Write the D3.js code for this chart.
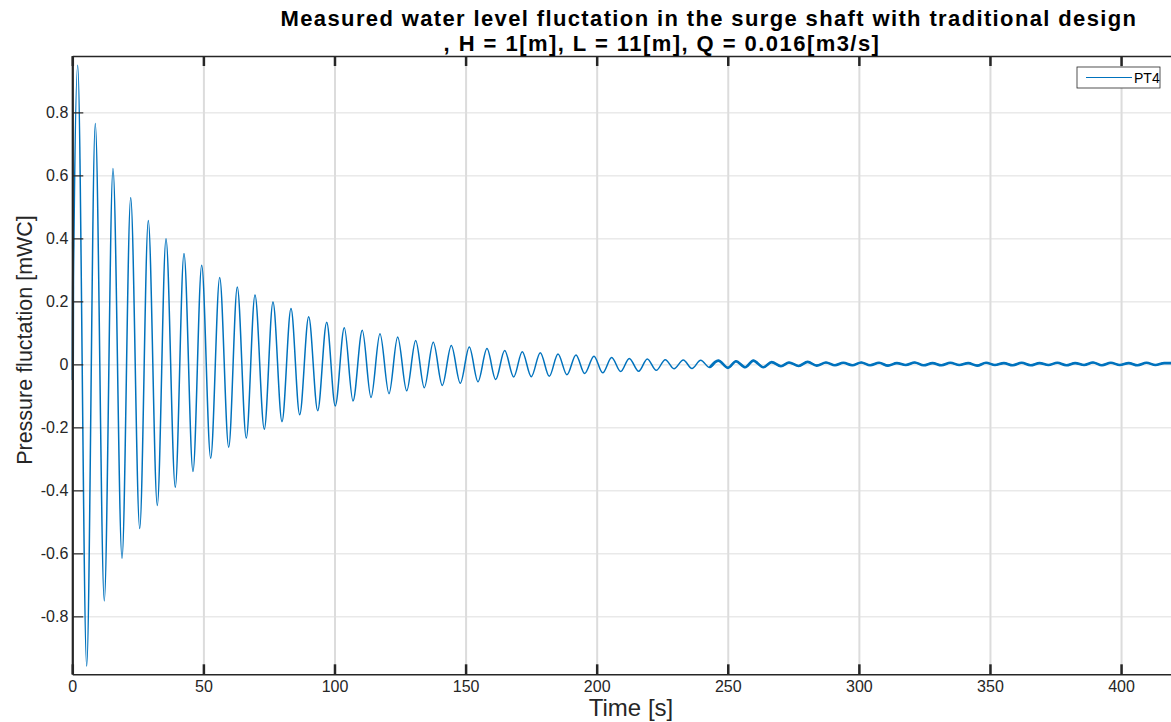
<!DOCTYPE html>
<html>
<head>
<meta charset="utf-8">
<script src="https://cdn.jsdelivr.net/npm/d3@7/dist/d3.min.js"></script>
<style>
  body { margin: 0; background: #fff; }
  svg { display: block; font-family: "Liberation Sans", Arial, sans-serif; }
</style>
</head>
<body>
<svg id="chart" width="1171" height="722"></svg>
<script>
const titleLines = ['Measured water level fluctation in the surge shaft with traditional design',
                    ', H = 1[m], L = 11[m], Q = 0.016[m3/s]']
const xLabel = 'Time [s]'
const yLabel = 'Pressure fluctation [mWC]'
const seriesName = 'PT4'

const xTicks = [0, 50, 100, 150, 200, 250, 300, 350, 400]
const yTicks = [-0.8, -0.6, -0.4, -0.2, 0, 0.2, 0.4, 0.6, 0.8]

// first second of the record (fast spikes at the valve closure)
const startTime  = [0, 0.15, 0.3, 0.45, 0.6]
const startValue = [-0.05, 0.39, -0.19, 0.25, 0.38]

// local maxima
const peakTime  = [2.06, 8.77, 15.52, 22.27, 28.99, 35.74, 42.6, 49.35, 56.22, 62.93, 69.68, 76.54, 83.41, 90.16,
                   97.03, 103.74, 110.6, 117.35, 124.1, 130.97, 137.68, 144.55, 151.41, 158.16, 164.91, 171.62,
                   178.49, 185.24, 192.1, 198.97, 205.72, 212.43, 219.3, 226.16, 233.03, 239.66, 246.38, 253.13,
                   259.73, 266.74, 273.34, 280.47, 287.45, 294.05]
const peakValue = [0.950, 0.765, 0.622, 0.530, 0.457, 0.399, 0.352, 0.315, 0.276, 0.246, 0.220, 0.198, 0.177, 0.151,
                   0.134, 0.116, 0.108, 0.097, 0.087, 0.076, 0.070, 0.060, 0.055, 0.050, 0.044, 0.040,
                   0.037, 0.033, 0.030, 0.026, 0.022, 0.019, 0.017, 0.015, 0.014, 0.013, 0.012, 0.010,
                   0.012, 0.007, 0.006, 0.008, 0.006, 0.005]

// local minima
const troughTime  = [5.49, 12.2, 18.96, 25.71, 32.42, 39.28, 46.03, 52.78, 59.65, 66.36, 73.23, 79.98, 86.73, 93.59,
                     100.3, 107.06, 113.93, 120.79, 127.54, 134.25, 141.11, 147.98, 154.73, 161.48, 168.34, 175.06,
                     181.92, 188.67, 195.42, 202.29, 209.15, 216.02, 222.73, 229.48, 236.35, 243.1, 250.08, 256.67,
                     263.54, 270.29, 277.04, 283.91, 290.89, 297.48]
const troughValue = [-0.958, -0.751, -0.616, -0.521, -0.448, -0.390, -0.340, -0.298, -0.263, -0.234, -0.206, -0.182, -0.160, -0.147,
                     -0.132, -0.116, -0.105, -0.093, -0.084, -0.074, -0.067, -0.060, -0.055, -0.048, -0.040, -0.039,
                     -0.038, -0.033, -0.029, -0.027, -0.023, -0.022, -0.019, -0.014, -0.013, -0.010, -0.011, -0.009,
                     -0.009, -0.006, -0.005, -0.004, -0.003, -0.003]

// settled part after 300 s, only sensor noise left
const tailTime  = [300.9, 304.3, 307.7, 311.1, 314.5, 317.9, 321.3, 324.7, 328.1, 331.5, 334.9, 338.3, 341.7, 345.1,
                   348.5, 351.9, 355.3, 358.7, 362.1, 365.5, 368.9, 372.3, 375.7, 379.1, 382.5, 385.9, 389.3, 392.7,
                   396.1, 399.5, 402.9, 406.3, 409.7, 413.1, 416.5, 420]
const tailValue = [0.006, -0.003, 0.005, -0.004, 0.004, -0.002, 0.006, -0.003, 0.004, -0.003, 0.005, -0.002, 0.004, -0.004,
                   0.005, -0.002, 0.004, -0.003, 0.005, -0.003, 0.004, -0.002, 0.005, -0.003, 0.004, -0.002, 0.006, -0.003,
                   0.005, -0.002, 0.004, -0.003, 0.005, -0.002, 0.004, 0.004]

const pairs = (ts, vs) => ts.map((t, i) => ({t: t, v: vs[i]}))
const points = [].concat(pairs(startTime, startValue), pairs(peakTime, peakValue),
                         pairs(troughTime, troughValue), pairs(tailTime, tailValue))
                 .sort((a, b) => a.t - b.t)

const plotLeft = 72.3, plotRight = 1173.5, plotTop = 56, plotBottom = 674.3
const axisColor = '#262626'
const lineColor = '#0072bd'

const x = d3.scaleLinear().domain([0, 420]).range([plotLeft, plotRight])
const y = d3.scaleLinear().domain([-0.984, 0.979]).range([plotBottom, plotTop])

const svg = d3.select('#chart')

// grid
let gx = svg.append('g')
        .attr('transform', `translate(0,${plotBottom})`)
        .call(d3.axisBottom(x).tickValues(xTicks).tickSize(-(plotBottom - plotTop)).tickFormat(''))
gx.select('.domain').remove()
gx.selectAll('line').attr('stroke', '#dcdcdc').attr('stroke-width', 2)

let gy = svg.append('g')
        .attr('transform', `translate(${plotLeft},0)`)
        .call(d3.axisLeft(y).tickValues(yTicks).tickSize(-(plotRight - plotLeft)).tickFormat(''))
gy.select('.domain').remove()
gy.selectAll('line').attr('stroke', '#dedede').attr('stroke-width', 1)

// trace
const line = d3.line()
            .x(d => x(d.t))
            .y(d => y(d.v))
            .curve(d3.curveMonotoneX)

svg.append('path')
    .datum(points)
    .attr('d', line)
    .attr('fill', 'none')
    .attr('stroke', lineColor)
    .attr('stroke-width', 1.5)

svg.append('path')
    .datum(points.filter(d => d.t > 240))
    .attr('d', line)
    .attr('fill', 'none')
    .attr('stroke', lineColor)
    .attr('stroke-width', 2.6)

// axes
let xb = svg.append('g')
        .attr('transform', `translate(0,${plotBottom})`)
        .call(d3.axisBottom(x).tickValues(xTicks).tickSizeInner(-10).tickSizeOuter(0).tickPadding(6))
xb.select('.domain').attr('stroke', axisColor).attr('stroke-width', 1.6)
xb.selectAll('line').attr('stroke', axisColor).attr('stroke-width', 2.5)
xb.selectAll('text')
    .attr('fill', axisColor)
    .style('font-size', '16px')
    .style('font-family', '"Liberation Sans", Arial, sans-serif')

let xt = svg.append('g')
        .attr('transform', `translate(0,${plotTop})`)
        .call(d3.axisTop(x).tickValues(xTicks).tickSizeInner(-10).tickSizeOuter(0).tickFormat(''))
xt.select('.domain').attr('stroke', axisColor).attr('stroke-width', 1.6)
xt.selectAll('line').attr('stroke', axisColor).attr('stroke-width', 2.5)

let yl = svg.append('g')
        .attr('transform', `translate(${plotLeft},0)`)
        .call(d3.axisLeft(y).tickValues(yTicks).tickSizeInner(-11).tickSizeOuter(0).tickPadding(4)
              .tickFormat(d => d === 0 ? '0' : String(+d.toFixed(1))))
yl.select('.domain').attr('stroke', axisColor).attr('stroke-width', 2.2)
yl.selectAll('line').attr('stroke', axisColor).attr('stroke-width', 1.2)
yl.selectAll('text')
    .attr('fill', axisColor)
    .style('font-size', '16px')
    .style('font-family', '"Liberation Sans", Arial, sans-serif')

// labels
svg.append('text')
    .attr('x', 631)
    .attr('y', 716)
    .attr('fill', axisColor)
    .style('font-size', '24px')
    .style('text-anchor', 'middle')
    .text(xLabel)

svg.append('text')
    .attr('transform', 'translate(32,340) rotate(-90)')
    .attr('fill', axisColor)
    .style('font-size', '21.5px')
    .style('text-anchor', 'middle')
    .text(yLabel)

svg.selectAll('text.title')
    .data(titleLines)
    .enter()
    .append('text')
    .attr('class', 'title')
    .attr('x', (d, i) => i === 0 ? 709 : 662)
    .attr('y', (d, i) => 26 + i * 25)
    .attr('fill', '#000')
    .style('font-size', '22px')
    .style('font-weight', 'bold')
    .style('letter-spacing', (d, i) => i === 0 ? '1.37px' : '1.45px')
    .style('text-anchor', 'middle')
    .text(d => d)

// legend
let legend = svg.append('g').attr('transform', 'translate(1077,67)')
legend.append('rect')
    .attr('width', 83)
    .attr('height', 21)
    .attr('fill', '#fff')
    .attr('stroke', axisColor)
    .attr('stroke-width', 0.8)
legend.append('line')
    .attr('x1', 9).attr('x2', 55)
    .attr('y1', 10.5).attr('y2', 10.5)
    .attr('stroke', lineColor)
    .attr('stroke-width', 1)
legend.append('text')
    .attr('x', 57)
    .attr('y', 16)
    .attr('fill', '#000')
    .style('font-size', '14px')
    .text(seriesName)
</script>
</body>
</html>
